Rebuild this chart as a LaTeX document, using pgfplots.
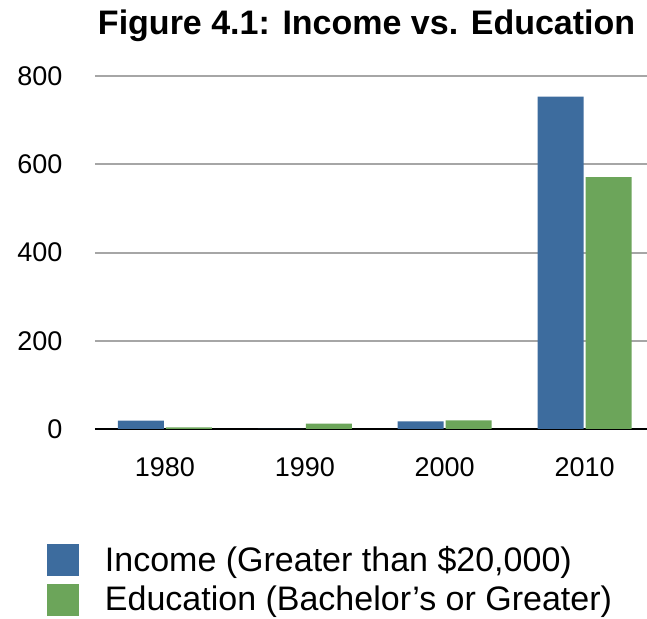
\documentclass[border=0pt]{standalone}
\usepackage{pgfplots}
\pgfplotsset{compat=1.18}
\usepackage{fontspec}
\setmainfont{Liberation Sans}
\definecolor{incblue}{RGB}{61,108,158}
\definecolor{edugreen}{RGB}{108,165,90}
\begin{document}
\begin{tikzpicture}
\useasboundingbox (-47.5pt,-95pt) rectangle (276pt,214.5pt);
\begin{axis}[
  scale only axis, width=276pt, height=176.5pt,
  xmin=-0.5, xmax=3.446, ymin=0, ymax=800,
  ytick={0,200,400,600,800},
  xtick={0,1,2,3}, xticklabels={1980,1990,2000,2010},
  ymajorgrids, grid style={color=black!35, line width=1pt},
  axis x line=bottom, axis y line=left,
  y axis line style={draw=none},
  x axis line style={-, line width=1.1pt, black},
  tick style={draw=none},
  ticklabel style={font=\fontsize{13.5}{15}\selectfont, inner sep=0pt},
  /pgf/number format/assume math mode=true,
  xticklabel style={anchor=base, yshift=-19.5pt},
  yticklabel style={anchor=east, xshift=-14pt},
  title={\textbf{Figure 4.1: Income vs. Education}},
  title style={font=\fontsize{17}{20}\selectfont, at={(0.492,1)}, anchor=base, yshift=15pt, inner sep=0pt},
  ybar, bar width=23pt,
  legend cell align=left,
  legend style={at={(-0.087,-0.326)}, anchor=north west, draw=none, fill=none,
    inner sep=0pt, outer sep=0pt, font=\fontsize{17}{20}\selectfont,
    column sep=13pt, row sep=4pt, nodes={inner sep=0pt}},
]
\addplot[fill=incblue, draw=none, bar shift=-12pt,
  legend image code/.code={\fill[incblue] (0pt,-8pt) rectangle (16pt,8pt);}]
  coordinates {(0,19) (1,0) (2,17) (3,753)};
\addplot[fill=edugreen, draw=none, bar shift=12pt,
  legend image code/.code={\fill[edugreen] (0pt,-8pt) rectangle (16pt,8pt);}]
  coordinates {(0,3.4) (1,12) (2,19.5) (3,571)};
\legend{{Income (Greater than \$20,000)}, {Education (Bachelor’s or Greater)}}
\end{axis}
\end{tikzpicture}
\end{document}
